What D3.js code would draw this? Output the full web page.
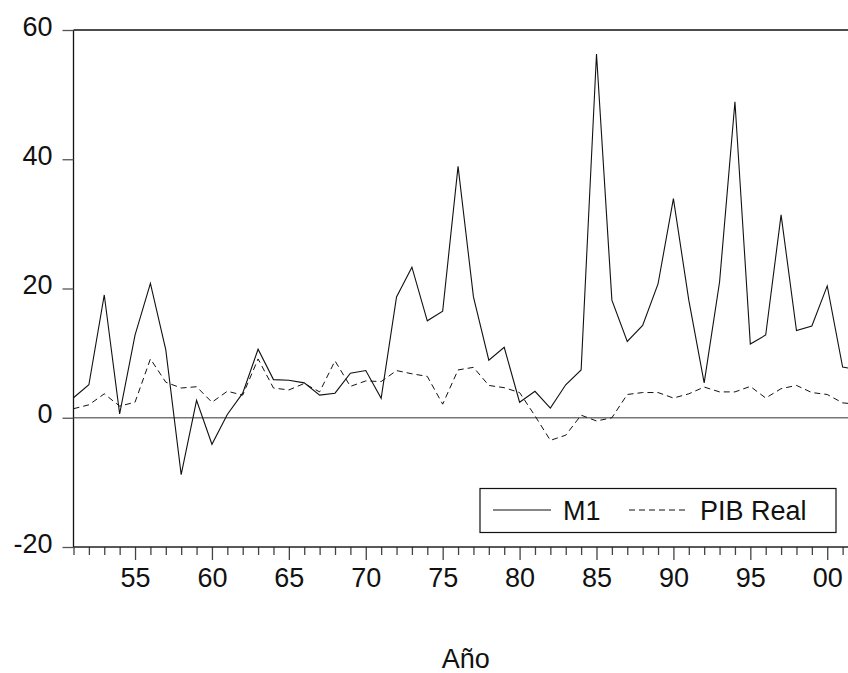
<!DOCTYPE html>
<html>
<head>
<meta charset="utf-8">
<script src="https://cdn.jsdelivr.net/npm/d3@7/dist/d3.min.js"></script>
<style>
  html, body { margin: 0; padding: 0; background: #fff; }
  svg { display: block; }
  text { font-family: "Liberation Sans", Arial, sans-serif; fill: #111; }
</style>
</head>
<body>
<svg id="chart" width="848" height="673"></svg>
<script>
// Annual growth rates (%), 1951–2002
const years = d3.range(1951, 2003);
const m1 = [3.1, 5.1, 19.0, 0.6, 12.8, 20.8, 10.5, -8.8, 2.7, -4.1,
            0.5, 3.8, 10.6, 5.9, 5.8, 5.4, 3.5, 3.8, 6.9, 7.3,
            3.0, 18.7, 23.3, 15.0, 16.5, 38.9, 18.7, 8.9, 10.9, 2.4,
            4.1, 1.5, 5.1, 7.4, 56.3, 18.2, 11.8, 14.3, 20.7, 33.9,
            18.2, 5.4, 21.0, 48.9, 11.4, 12.8, 31.4, 13.5, 14.2, 20.4,
            7.85, 7.4];
const pibReal = [1.4, 2.0, 3.7, 1.8, 2.4, 9.1, 5.5, 4.6, 4.8, 2.4,
                 4.1, 3.5, 9.1, 4.6, 4.3, 5.3, 4.0, 8.8, 4.85, 5.7,
                 5.6, 7.3, 6.8, 6.4, 2.1, 7.4, 7.8, 5.0, 4.65, 3.9,
                 0.3, -3.5, -2.7, 0.4, -0.5, 0.0, 3.6, 3.9, 3.9, 3.05,
                 3.7, 4.75, 4.0, 4.0, 4.85, 3.05, 4.5, 5.0, 3.9, 3.6,
                 2.3, 2.1];
const yTicks = [-20, 0, 20, 40, 60];
const xLabelYears = d3.range(1955, 2001, 5);
const seriesNames = ["M1", "PIB Real"];
const xTitle = "Año";

const svg = d3.select("#chart");
const plotLeft = 73.5, plotRight = 858, plotTop = 30, plotBottom = 547;

const x = d3.scaleLinear().domain([1951, 2002]).range([plotLeft, plotRight]);
const y = d3.scaleLinear().domain([-20, 60]).range([plotBottom, plotTop]);

const fontSize = 27;

// zero reference line
svg.append("line")
  .attr("x1", plotLeft).attr("x2", plotRight)
  .attr("y1", y(0)).attr("y2", y(0))
  .attr("stroke", "#777").attr("stroke-width", 1.5);

// series
const line = d3.line().x((d, i) => x(years[i])).y(d => y(d));

svg.append("defs").append("clipPath").attr("id", "plot")
  .append("rect").attr("x", plotLeft).attr("y", plotTop - 2)
  .attr("width", plotRight - plotLeft).attr("height", plotBottom - plotTop + 4);

const g = svg.append("g").attr("clip-path", "url(#plot)");
g.append("path").datum(pibReal)
  .attr("d", line).attr("fill", "none")
  .attr("stroke", "#111").attr("stroke-width", 1)
  .attr("stroke-dasharray", "6,4");
g.append("path").datum(m1)
  .attr("d", line).attr("fill", "none")
  .attr("stroke", "#111").attr("stroke-width", 1.1);

// frame: left, top and right edges
svg.append("line").attr("x1", plotLeft).attr("x2", plotLeft)
  .attr("y1", plotTop).attr("y2", plotBottom)
  .attr("stroke", "#111").attr("stroke-width", 1.3);
svg.append("line").attr("x1", plotLeft).attr("x2", plotRight)
  .attr("y1", plotTop).attr("y2", plotTop)
  .attr("stroke", "#111").attr("stroke-width", 1.3);
svg.append("line").attr("x1", plotRight).attr("x2", plotRight)
  .attr("y1", plotTop).attr("y2", plotBottom)
  .attr("stroke", "#111").attr("stroke-width", 1.3);

// left axis (plain hyphen for negatives)
const yAxis = d3.axisLeft(y).tickValues(yTicks).tickSize(11).tickPadding(10)
  .tickFormat(d => String(d));
const ya = svg.append("g").attr("transform", `translate(${plotLeft},0)`).call(yAxis);
ya.select(".domain").remove();
ya.selectAll(".tick line").attr("stroke", "#555").attr("stroke-width", 1.3);
ya.selectAll(".tick text")
  .attr("font-size", fontSize).attr("fill", "#111")
  .attr("dy", null).attr("y", 5)
  .style("font-family", '"Liberation Sans", Arial, sans-serif');

// bottom axis: yearly minor ticks, longer ticks every five years
const xa = svg.append("g").attr("transform", `translate(0,${plotBottom})`);
xa.call(d3.axisBottom(x).tickValues(years.filter(v => v % 5 !== 0))
  .tickSize(8).tickFormat(""));
xa.select(".domain").remove();
xa.selectAll(".tick line").attr("stroke", "#444").attr("stroke-width", 1.3);

const xb = svg.append("g").attr("transform", `translate(0,${plotBottom})`);
xb.call(d3.axisBottom(x).tickValues(years.filter(v => v % 5 === 0))
  .tickSize(13).tickPadding(8)
  .tickFormat(v => xLabelYears.includes(v) ? String(v % 100).padStart(2, "0") : ""));
xb.select(".domain").remove();
xb.selectAll(".tick line").attr("stroke", "#444").attr("stroke-width", 1.3);
xb.selectAll(".tick text")
  .attr("font-size", fontSize).attr("fill", "#111")
  .style("font-family", '"Liberation Sans", Arial, sans-serif');

svg.append("line").attr("x1", plotLeft).attr("x2", plotRight)
  .attr("y1", plotBottom).attr("y2", plotBottom)
  .attr("stroke", "#222").attr("stroke-width", 1.5);

// axis title
svg.append("text")
  .attr("x", (plotLeft + plotRight) / 2).attr("y", 668)
  .attr("text-anchor", "middle").attr("font-size", fontSize)
  .text(xTitle);

// legend
const lg = svg.append("g");
lg.append("rect").attr("x", 480).attr("y", 488.5)
  .attr("width", 356).attr("height", 44)
  .attr("fill", "#fff").attr("stroke", "#111").attr("stroke-width", 1.2);
lg.append("line").attr("x1", 493).attr("x2", 551).attr("y1", 510).attr("y2", 510)
  .attr("stroke", "#111").attr("stroke-width", 1.1);
lg.append("text").attr("x", 563).attr("y", 520).attr("font-size", fontSize)
  .text(seriesNames[0]);
lg.append("line").attr("x1", 629).attr("x2", 688).attr("y1", 510).attr("y2", 510)
  .attr("stroke", "#111").attr("stroke-width", 1).attr("stroke-dasharray", "6,4");
lg.append("text").attr("x", 700).attr("y", 520).attr("font-size", fontSize)
  .text(seriesNames[1]);
</script>
</body>
</html>
